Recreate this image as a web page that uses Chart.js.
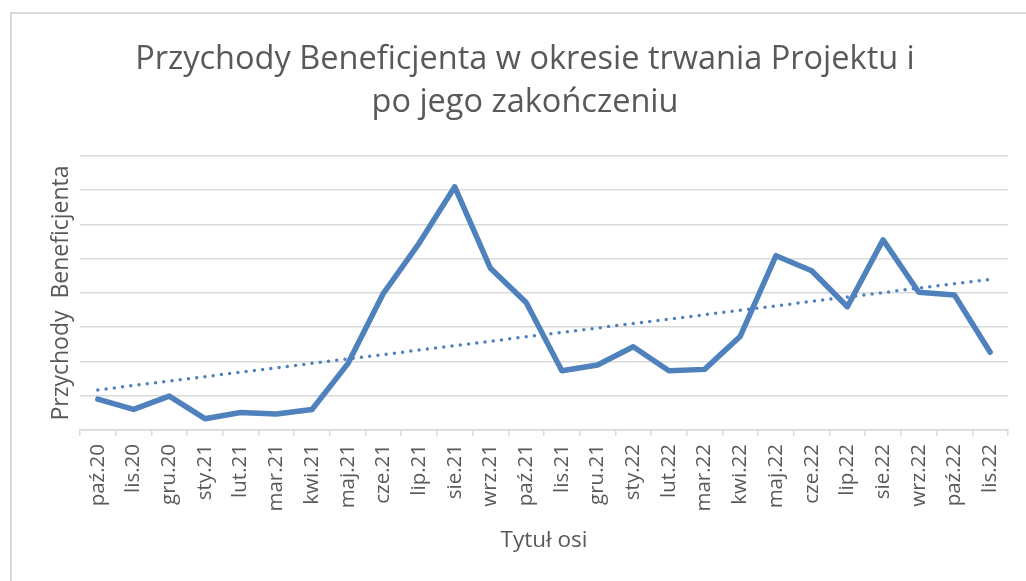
<!DOCTYPE html>
<html>
<head>
<meta charset="utf-8">
<script src="https://cdn.jsdelivr.net/npm/chart.js@4"></script>
<style>
  html, body { margin: 0; padding: 0; background: #fff; overflow: hidden; }
  #frame { position: absolute; left: 10px; top: 12px; width: 1100px; height: 700px; border: 2px solid #d9d9d9; }
  #chart { position: absolute; left: 0; top: 0; }
</style>
</head>
<body>
<div id="frame"></div>
<canvas id="chart" width="1026" height="581"></canvas>
<script>
const months = ['paź.20', 'lis.20', 'gru.20', 'sty.21', 'lut.21', 'mar.21', 'kwi.21', 'maj.21', 'cze.21',
  'lip.21', 'sie.21', 'wrz.21', 'paź.21', 'lis.21', 'gru.21', 'sty.22', 'lut.22', 'mar.22', 'kwi.22',
  'maj.22', 'cze.22', 'lip.22', 'sie.22', 'wrz.22', 'paź.22', 'lis.22'];
const revenue = [0.90, 0.60, 0.99, 0.33, 0.51, 0.47, 0.60, 1.93, 3.99, 5.45, 7.10, 4.72, 3.72,
  1.73, 1.90, 2.43, 1.73, 1.77, 2.74, 5.09, 4.65, 3.60, 5.55, 4.02, 3.94, 2.27];
// trendline: values read at first and last month
const trendEnds = [1.17, 4.40];
const titleLines = ['Przychody Beneficjenta w okresie trwania Projektu i', 'po jego zakończeniu'];

const trend = months.map((m, i) => i === 0 ? trendEnds[0] : (i === months.length - 1 ? trendEnds[1] : null));

Chart.defaults.font.family = '"Open Sans", "Noto Sans", sans-serif';
Chart.defaults.color = '#595959';

// move title so it's centred like the original chart box
const shiftTitle = {
  id: 'shiftTitle',
  afterLayout: (chart) => {
    if (chart.titleBlock) {
      chart.titleBlock.left += 21;
      chart.titleBlock.right += 21;
    }
  }
};

new Chart(document.getElementById('chart'), {
  type: 'line',
  data: {
    labels: months,
    datasets: [
      {
        label: 'Przychody',
        data: revenue,
        borderColor: '#4f81bd',
        borderWidth: 5.5,
        borderJoinStyle: 'round',
        borderCapStyle: 'round',
        pointRadius: 0,
        tension: 0,
        fill: false
      },
      {
        label: 'Trend',
        data: trend,
        borderColor: '#4f81bd',
        borderWidth: 3.5,
        borderDash: [0, 8.3],
        borderCapStyle: 'round',
        pointRadius: 0,
        spanGaps: true,
        fill: false
      }
    ]
  },
  options: {
    responsive: false,
    animation: false,
    layout: { padding: { left: 0, right: 18, top: 0, bottom: 0 } },
    plugins: {
      legend: { display: false },
      tooltip: { enabled: false },
      title: {
        display: true,
        text: titleLines,
        color: '#595959',
        font: { size: 32.5, weight: 'normal', lineHeight: 1.323 },
        padding: { top: 38.5, bottom: 31.5 }
      }
    },
    scales: {
      x: {
        offset: true,
        grid: { offset: true, drawOnChartArea: false, drawTicks: true, tickLength: 6, color: '#d9d9d9', lineWidth: 1.5 },
        border: { color: '#d9d9d9', width: 1.5 },
        ticks: { font: { size: 20.5 }, color: '#595959', minRotation: 90, maxRotation: 90, autoSkip: false, padding: 8 },
        title: { display: true, text: 'Tytuł osi', color: '#595959', font: { size: 22.5, lineHeight: 1.2 }, padding: { top: 0, bottom: 27 } },
        afterFit: (scale) => { scale.height = 151; }
      },
      y: {
        min: 0,
        max: 8,
        grid: { color: '#d9d9d9', lineWidth: 1.5, drawTicks: false },
        border: { display: false },
        ticks: { display: false, stepSize: 1 },
        title: { display: true, text: 'Przychody  Beneficjenta', color: '#595959', font: { size: 23, lineHeight: 1.2 }, padding: { top: 48, bottom: 0 } },
        afterFit: (scale) => { scale.width = 80; }
      }
    }
  },
  plugins: [shiftTitle]
});
</script>
</body>
</html>
